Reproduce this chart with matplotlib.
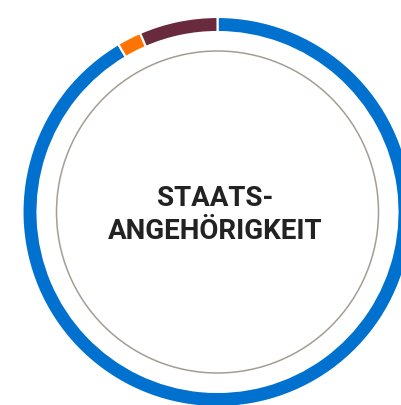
import matplotlib
matplotlib.use("Agg")
import matplotlib.pyplot as plt
from matplotlib.patches import Circle

categories = ["Deutsch", "EU-Ausland", "Sonstige"]
values = [91.5, 2.0, 6.5]
colors = ["#0071CE", "#FF7300", "#6A2A3E"]
title_lines = ["STAATS-", "ANGEHÖRIGKEIT"]

W, H = 401, 405
fig = plt.figure(figsize=(W / 100, H / 100), dpi=100)
ax = fig.add_axes([0, 0, 1, 1])
cx, cy = 217.5, H - 212
ax.pie(values, colors=colors, startangle=90, counterclock=False,
       radius=195, center=(cx, cy),
       wedgeprops=dict(width=15, edgecolor="white", linewidth=1.5))
ax.add_patch(Circle((cx, cy), 161, fill=False, edgecolor="#A39D94", linewidth=1.1))
ax.text(cx - 2.5, H - 215, "\n".join(title_lines), ha="center", va="center",
        fontsize=20, fontweight="bold", color="#222222", family="Roboto",
        linespacing=1.25)
ax.set_xlim(0, W)
ax.set_ylim(0, H)
ax.set_aspect("equal")
ax.axis("off")
fig.savefig("out.png", dpi=100)
